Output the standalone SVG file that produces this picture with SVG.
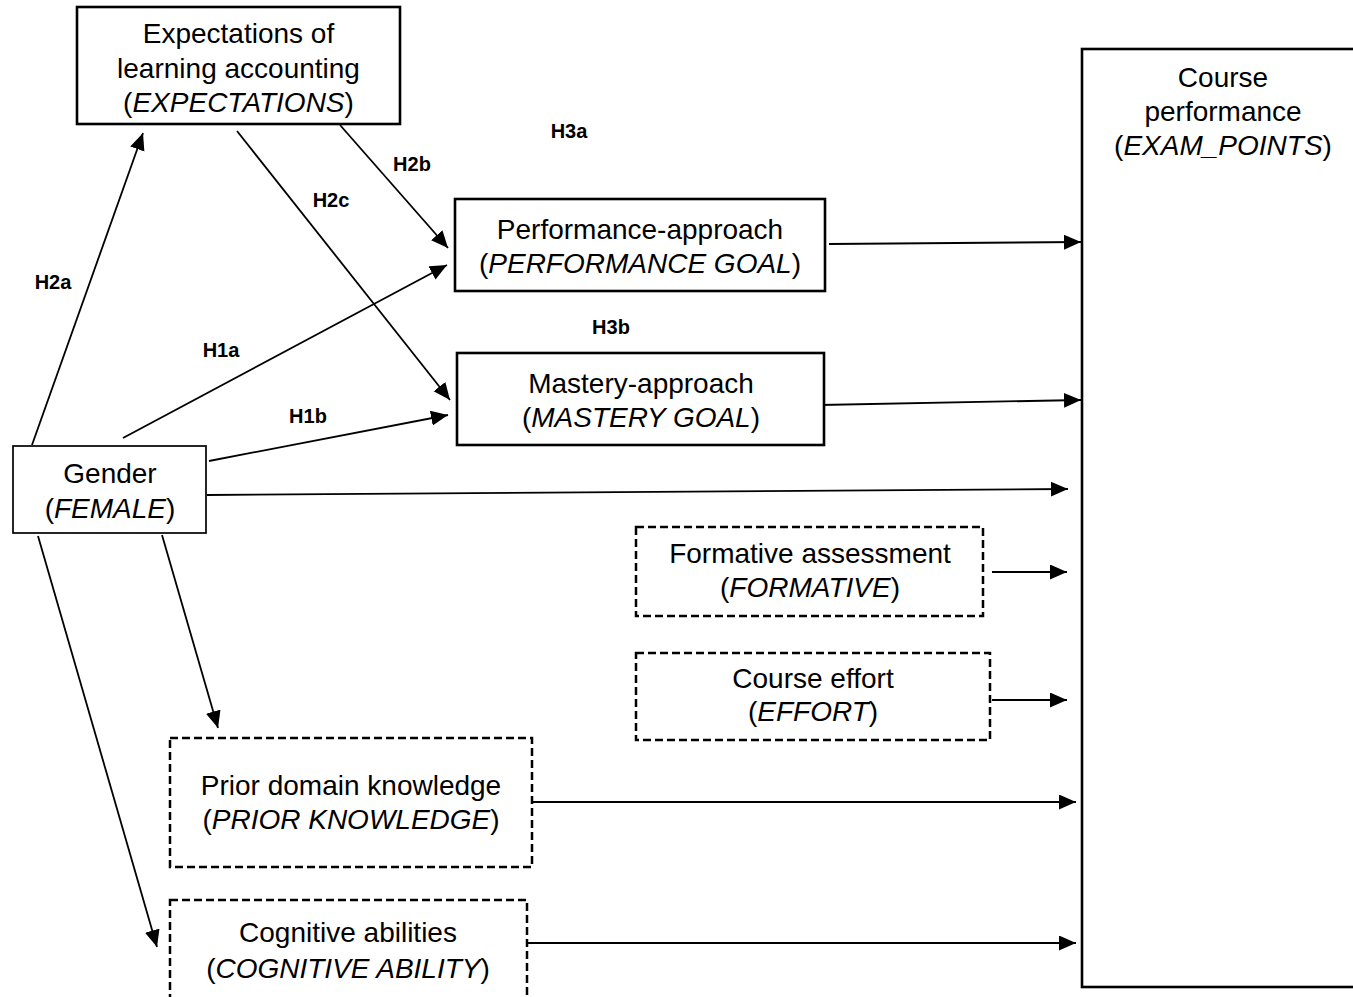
<svg xmlns="http://www.w3.org/2000/svg" width="1353" height="997" viewBox="0 0 1353 997">
  <style>
    .box { fill: #fff; stroke: #000; stroke-width: 2.6; }
    .thin { fill: #fff; stroke: #000; stroke-width: 1.7; }
    .dash { fill: #fff; stroke: #000; stroke-width: 2.5; stroke-dasharray: 8 4; }
    .lbl { font-family: "Liberation Sans", Arial, sans-serif; font-size: 28px; fill: #000; text-anchor: middle; }
    .hyp { font-family: "Liberation Sans", Arial, sans-serif; font-size: 20px; font-weight: bold; fill: #000; text-anchor: middle; }
    .it { font-style: italic; }
    .conn line { stroke: #000; stroke-width: 1.8; marker-end: url(#arrow); }
  </style>
  <defs>
    <marker id="arrow" markerUnits="userSpaceOnUse" markerWidth="18" markerHeight="16" refX="17" refY="7.5" orient="auto">
      <path d="M0,0 L17,7.5 L0,15 Z" fill="#000"/>
    </marker>
  </defs>
  <rect width="1353" height="997" fill="#fff"/>

  <!-- connectors -->
  <g id="connectors" class="conn">
    <line x1="32" y1="445" x2="143" y2="133"/>
    <line x1="237" y1="131" x2="450" y2="400"/>
    <line x1="340" y1="125" x2="448" y2="248"/>
    <line x1="123" y1="438" x2="447" y2="265"/>
    <line x1="209" y1="461" x2="448" y2="415"/>
    <line x1="207" y1="495" x2="1068" y2="489"/>
    <line x1="162" y1="535" x2="218" y2="728"/>
    <line x1="38" y1="536" x2="157" y2="947"/>
    <line x1="829" y1="244" x2="1081" y2="242"/>
    <line x1="820" y1="405" x2="1081" y2="400"/>
    <line x1="992" y1="572" x2="1067" y2="572"/>
    <line x1="992" y1="700" x2="1067" y2="700"/>
    <line x1="532" y1="802" x2="1076" y2="802"/>
    <line x1="527" y1="943" x2="1076" y2="943"/>
  </g>

  <!-- hypothesis labels -->
  <g id="hypotheses">
    <text class="hyp" x="569" y="138">H3a</text>
    <text class="hyp" x="412" y="171">H2b</text>
    <text class="hyp" x="331" y="207">H2c</text>
    <text class="hyp" x="53" y="289">H2a</text>
    <text class="hyp" x="221" y="357">H1a</text>
    <text class="hyp" x="611" y="334">H3b</text>
    <text class="hyp" x="308" y="423">H1b</text>
  </g>

  <g id="expectations">
    <rect class="box" x="77" y="7" width="323" height="117"/>
    <text class="lbl" x="238.5" y="43">Expectations of</text>
    <text class="lbl" x="238.5" y="78">learning accounting</text>
    <text class="lbl" x="238.5" y="112">(<tspan class="it">EXPECTATIONS</tspan>)</text>
  </g>

  <g id="performance-goal">
    <rect class="box" x="455" y="199" width="370" height="92"/>
    <text class="lbl" x="640" y="239">Performance-approach</text>
    <text class="lbl" x="640" y="273">(<tspan class="it">PERFORMANCE GOAL</tspan>)</text>
  </g>

  <g id="mastery-goal">
    <rect class="box" x="457" y="353" width="367" height="92"/>
    <text class="lbl" x="641" y="393">Mastery-approach</text>
    <text class="lbl" x="641" y="427">(<tspan class="it">MASTERY GOAL</tspan>)</text>
  </g>

  <g id="gender">
    <rect class="thin" x="13" y="446" width="193" height="87"/>
    <text class="lbl" x="110" y="483">Gender</text>
    <text class="lbl" x="110" y="518">(<tspan class="it">FEMALE</tspan>)</text>
  </g>

  <g id="formative">
    <rect class="dash" x="636" y="527" width="347" height="89"/>
    <text class="lbl" x="810" y="563">Formative assessment</text>
    <text class="lbl" x="810" y="597">(<tspan class="it">FORMATIVE</tspan>)</text>
  </g>

  <g id="effort">
    <rect class="dash" x="636" y="653" width="354" height="87"/>
    <text class="lbl" x="813" y="688">Course effort</text>
    <text class="lbl" x="813" y="721">(<tspan class="it">EFFORT</tspan>)</text>
  </g>

  <g id="prior-knowledge">
    <rect class="dash" x="170" y="738" width="362" height="129"/>
    <text class="lbl" x="351" y="795">Prior domain knowledge</text>
    <text class="lbl" x="351" y="829">(<tspan class="it">PRIOR KNOWLEDGE</tspan>)</text>
  </g>

  <g id="cognitive-ability">
    <rect class="dash" x="170" y="900" width="357" height="120"/>
    <text class="lbl" x="348" y="942">Cognitive abilities</text>
    <text class="lbl" x="348" y="978">(<tspan class="it">COGNITIVE ABILITY</tspan>)</text>
  </g>

  <g id="exam-points">
    <rect class="box" x="1082" y="49" width="320" height="938"/>
    <text class="lbl" x="1223" y="87">Course</text>
    <text class="lbl" x="1223" y="121">performance</text>
    <text class="lbl" x="1223" y="155">(<tspan class="it">EXAM_POINTS</tspan>)</text>
  </g>
</svg>
